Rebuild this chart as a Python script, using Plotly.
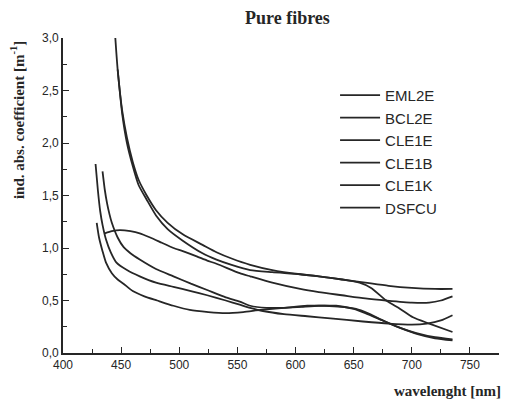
import plotly.graph_objects as go

# ---- data ----
eml2e_x = [445, 447, 451, 455, 460, 465, 472, 480, 490, 503, 520, 532, 545, 561, 580, 604, 620, 640, 660, 680, 700, 720, 735]
eml2e_y = [3.00, 2.70, 2.30, 2.05, 1.82, 1.65, 1.50, 1.36, 1.24, 1.13, 1.03, 0.96, 0.90, 0.84, 0.79, 0.75, 0.73, 0.70, 0.67, 0.64, 0.62, 0.61, 0.61]

bcl2e_x = [447, 451, 455, 460, 465, 472, 480, 490, 503, 520, 532, 545, 561, 580, 604, 620, 640, 655, 665, 678, 690, 701, 715, 735]
bcl2e_y = [2.70, 2.27, 2.00, 1.78, 1.60, 1.46, 1.31, 1.18, 1.07, 0.95, 0.89, 0.84, 0.79, 0.77, 0.75, 0.73, 0.70, 0.67, 0.62, 0.50, 0.42, 0.34, 0.28, 0.20]

cle1e_x = [428, 430, 432, 434, 437, 441, 446, 455, 466, 480, 495, 510, 524, 540, 552, 561, 572, 590, 610, 630, 658, 680, 700, 713, 725, 735]
cle1e_y = [1.80, 1.55, 1.35, 1.22, 1.08, 0.96, 0.86, 0.79, 0.73, 0.67, 0.63, 0.59, 0.55, 0.50, 0.46, 0.43, 0.40, 0.37, 0.35, 0.33, 0.30, 0.28, 0.27, 0.28, 0.31, 0.36]

cle1b_x = [434, 436, 438, 440, 442, 447, 452, 458, 466, 480, 495, 510, 524, 540, 552, 561, 575, 590, 605, 620, 635, 650, 660, 675, 690, 705, 720, 735]
cle1b_y = [1.73, 1.55, 1.42, 1.32, 1.24, 1.10, 1.01, 0.95, 0.89, 0.80, 0.73, 0.66, 0.60, 0.53, 0.49, 0.45, 0.43, 0.43, 0.44, 0.45, 0.45, 0.42, 0.38, 0.31, 0.24, 0.18, 0.14, 0.12]

cle1k_x = [429, 431, 434, 437, 442, 447, 452, 460, 470, 481, 495, 509, 525, 540, 555, 570, 590, 610, 625, 640, 652, 662, 675, 690, 704, 720, 735]
cle1k_y = [1.24, 1.10, 0.97, 0.86, 0.76, 0.70, 0.66, 0.59, 0.54, 0.50, 0.45, 0.41, 0.39, 0.38, 0.39, 0.41, 0.43, 0.45, 0.45, 0.44, 0.42, 0.38, 0.31, 0.24, 0.19, 0.15, 0.13]

dsfcu_x = [436, 442, 449, 458, 466, 475, 485, 495, 503, 515, 524, 532, 552, 561, 580, 604, 620, 640, 660, 678, 700, 715, 725, 735]
dsfcu_y = [1.14, 1.16, 1.17, 1.16, 1.14, 1.10, 1.05, 1.00, 0.97, 0.92, 0.88, 0.85, 0.76, 0.73, 0.67, 0.61, 0.58, 0.55, 0.52, 0.50, 0.48, 0.48, 0.50, 0.54]

series = [
    ("EML2E", eml2e_x, eml2e_y),
    ("BCL2E", bcl2e_x, bcl2e_y),
    ("CLE1E", cle1e_x, cle1e_y),
    ("CLE1B", cle1b_x, cle1b_y),
    ("CLE1K", cle1k_x, cle1k_y),
    ("DSFCU", dsfcu_x, dsfcu_y),
]

x_ticks = [400, 450, 500, 550, 600, 650, 700, 750]
y_ticks = [0.0, 0.5, 1.0, 1.5, 2.0, 2.5, 3.0]

ink = "#262626"
serif = "Liberation Serif, Times New Roman, serif"

fig = go.Figure()
for name, xs, ys in series:
    fig.add_trace(go.Scatter(
        x=xs, y=ys, name=name, mode="lines",
        line=dict(color=ink, width=1.8, shape="spline", smoothing=0.6),
    ))

axis_common = dict(
    showgrid=False, zeroline=False, showline=True, linecolor=ink, linewidth=1.6,
    ticks="inside", tickcolor=ink, tickwidth=1.3, ticklen=6,
    tickfont=dict(family="Liberation Sans Narrow, Arial Narrow, Liberation Sans, Arial", size=12, color=ink),
)

fig.update_layout(
    width=507, height=405,
    margin=dict(l=63, r=8, t=38, b=52),
    paper_bgcolor="white", plot_bgcolor="white",
    separators=",.",
    showlegend=True,
    legend=dict(
        x=0.624, y=0.87, xanchor="left", yanchor="top",
        bgcolor="rgba(0,0,0,0)", borderwidth=0,
        font=dict(family="Liberation Sans, Arial", size=15, color=ink),
        itemwidth=40, tracegroupgap=0,
    ),
    xaxis=dict(range=[400, 775], tickvals=x_ticks, ticktext=[str(v) for v in x_ticks],
               minor=dict(dtick=25, tick0=400, ticks="inside", ticklen=4, tickcolor=ink, tickwidth=1.2),
               **axis_common),
    yaxis=dict(range=[0, 3.0], tickvals=y_ticks, tickformat=".1f",
               minor=dict(dtick=0.25, tick0=0, ticks="inside", ticklen=4, tickcolor=ink, tickwidth=1.2),
               **axis_common),
    annotations=[
        dict(text="<b>Pure fibres</b>", xref="paper", yref="paper", x=0.516, y=1.0,
             yshift=20, xanchor="center", yanchor="middle", showarrow=False,
             font=dict(family=serif, size=18, color=ink)),
        dict(text="<b>ind. abs. coefficient [m<sup>-1</sup>]</b>", xref="paper", yref="paper",
             x=-0.105, y=0.74, textangle=-90, xanchor="center", yanchor="middle", showarrow=False,
             font=dict(family=serif, size=15, color=ink)),
        dict(text="<b>wavelenght [nm]</b>", xref="paper", yref="paper",
             x=1.009, y=-0.121, xanchor="right", yanchor="middle", showarrow=False,
             font=dict(family=serif, size=15, color=ink)),
    ],
)

fig.write_html("out.html")
